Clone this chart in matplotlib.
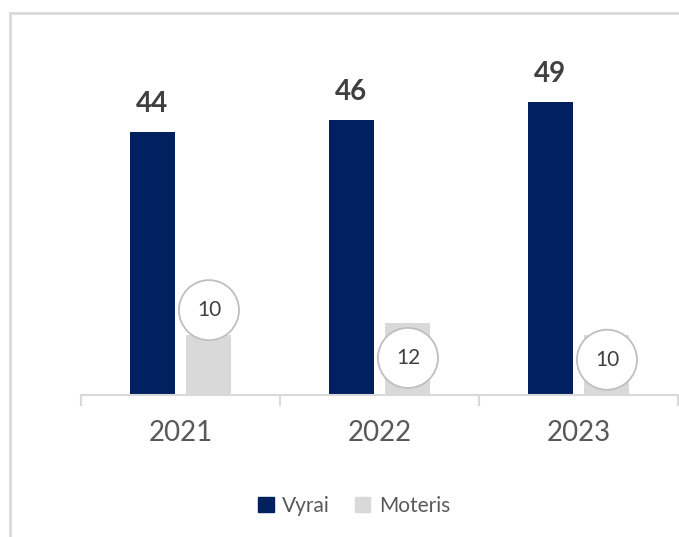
import matplotlib.pyplot as plt
from matplotlib.lines import Line2D
from matplotlib.patches import Patch

years = ['2021', '2022', '2023']
vyrai = [44, 46, 49]
moteris = [10, 12, 10]

# where the circled Moteris labels sit, relative to the bar top (data units)
moteris_label_shift = [4.2, -5.8, -4.1]

navy = '#002060'
grey = '#d9d9d9'

plt.rcParams['font.family'] = ['Lato', 'DejaVu Sans']

W, H = 679, 537
fig = plt.figure(figsize=(W / 100, H / 100), dpi=100)
ax = fig.add_axes([81 / W, (H - 395) / H, (678 - 81) / W, (395 - 30) / H])

x = range(len(years))
bw = 0.226
off = 0.143
ax.bar([i - off for i in x], vyrai, width=bw, color=navy, label='Vyrai')
ax.bar([i + off for i in x], moteris, width=bw, color=grey, label='Moteris')

ax.set_xlim(-0.5, len(years) - 0.5)
ax.set_ylim(0, 61.1)

for i, v in enumerate(vyrai):
    ax.text(i - off, v + 4.7, str(v), ha='center', va='center',
            fontsize=20, fontweight='bold', color='#404040')

for i, v in enumerate(moteris):
    ax.text(i + off, v + moteris_label_shift[i], str(v), ha='center', va='center',
            fontsize=15, color='#404040',
            bbox=dict(boxstyle='circle,pad=0.86', fc='white', ec='#bfbfbf', lw=1.3))

# axis: only the bottom line with ticks between categories
for s in ['top', 'right', 'left']:
    ax.spines[s].set_visible(False)
ax.spines['bottom'].set_color(grey)
ax.spines['bottom'].set_linewidth(1.5)
ax.set_yticks([])
ax.set_xticks(list(x))
ax.set_xticklabels(years, fontsize=20, color='#595959')
ax.set_xticks([i - 0.5 for i in range(len(years) + 1)], minor=True)
ax.tick_params(axis='x', which='major', length=0, pad=18)
ax.tick_params(axis='x', which='minor', length=8, width=1.5, color=grey)

# chart border (cropped on the right and bottom)
bx, by = 9.5 / W, (H - 13) / H
fig.add_artist(Line2D([bx, bx], [0, by], color=grey, lw=2, transform=fig.transFigure))
fig.add_artist(Line2D([bx, 1], [by, by], color=grey, lw=2, transform=fig.transFigure))

handles = [Patch(color=navy, label='Vyrai'), Patch(color=grey, label='Moteris')]
leg = fig.legend(handles=handles, loc='center', bbox_to_anchor=(354 / W, (H - 506) / H),
                 ncol=2, frameon=False, fontsize=15, handlelength=0.75, handleheight=0.75,
                 handletextpad=0.4, columnspacing=1.2)
for t in leg.get_texts():
    t.set_color('#595959')

fig.savefig('out.png', dpi=100)
